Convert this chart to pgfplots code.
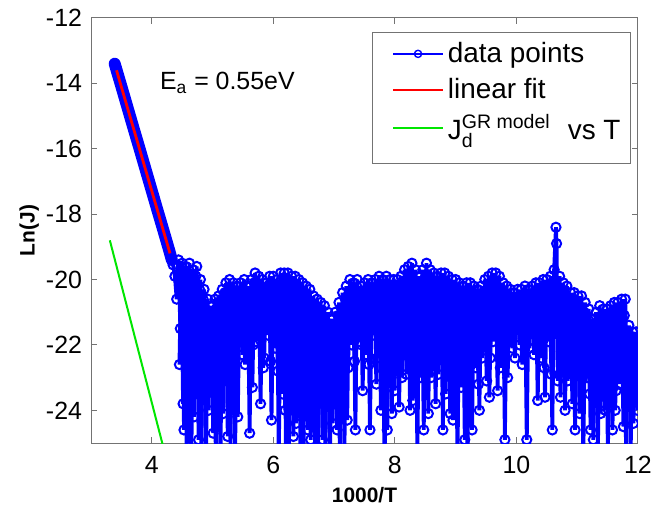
\documentclass[border=0pt]{standalone}
\usepackage{pgfplots}
\pgfplotsset{compat=1.18}
\usepackage{amsmath}
\usepackage{fontspec}
\setmainfont{Liberation Sans}
\definecolor{mblue}{RGB}{0,0,255}
\definecolor{mred}{RGB}{255,0,0}
\definecolor{mgreen}{RGB}{0,230,0}
\begin{document}
\begin{tikzpicture}
\begin{axis}[
  scale only axis,
  width=273.5bp, height=212.5bp,
  xmin=3, xmax=12, ymin=-25, ymax=-12,
  clip marker paths=true,
  xtick={4,6,8,10,12}, ytick={-24,-22,-20,-18,-16,-14,-12},
  /pgf/number format/assume math mode=true,
  ticklabel style={font=\fontsize{12.5}{14}\selectfont},
  xticklabel style={yshift=-3bp},
  yticklabel style={xshift=-1bp},
  axis line style={black!55, line width=0.5bp},
  tick style={black!55, line width=0.5bp},
  major tick length=3bp,
  xlabel={\textbf{1000/T}},
  ylabel={\textbf{Ln(J)}},
  label style={font=\fontsize{10.5}{12}\selectfont},
  xlabel style={at={(axis description cs:0.5,-0.122)}, anchor=center},
  ylabel style={at={(axis description cs:-0.113,0.5)}, anchor=center},
  legend style={name=leg, at={(rel axis cs:0.987,0.965)}, anchor=north east,
    draw=none, fill=white, font=\fontsize{14}{16}\selectfont,
    inner xsep=3bp, inner ysep=2.5bp, row sep=2.5bp,
    cells={anchor=west}},
  legend image code/.code={\path (-6bp,0bp); \draw[line width=0.9bp, mark repeat=2,mark phase=2, mark options={line width=0.7bp, mark size=1.8bp}] plot coordinates {(0bp,0bp) (12.5bp,0bp) (25bp,0bp)};},
  noise/.style={mblue, line width=1.9bp, mark=o, mark size=2.3bp, mark options={line width=1bp}},
]
% steep section drawn as a dense band
\addplot[mblue, line width=6bp, line cap=round, mark=none, forget plot] coordinates {
(3.39,-13.40) (3.49,-14.03) (3.59,-14.67) (3.69,-15.31) (3.79,-15.94) (3.89,-16.58) (3.99,-17.22)
(4.09,-17.86) (4.19,-18.49) (4.29,-19.13) (4.33,-19.40)
};
% second (interleaved) set of measured points
\addplot[noise, forget plot] coordinates {
(4.455,-22.6) (4.485,-19.6) (4.515,-23.8) (4.545,-20.0) (4.575,-25.4) (4.605,-19.8) (4.635,-22.1) (4.665,-20.2)
(4.695,-24.2) (4.725,-19.9) (4.755,-23.1) (4.785,-20.3) (4.815,-25.2) (4.845,-20.6) (4.875,-22.5) (4.905,-21.0)
(4.935,-24.0) (4.965,-21.1) (4.995,-23.0) (5.025,-21.0) (5.055,-25.6) (5.085,-20.8) (5.115,-22.4) (5.145,-20.6)
(5.175,-24.1) (5.205,-20.4) (5.235,-22.9) (5.265,-20.3) (5.295,-25.1) (5.325,-20.4) (5.355,-22.6) (5.385,-20.5)
(5.415,-24.2)
(5.445,-20.4) (5.475,-21.2) (5.505,-20.3) (5.535,-22.6) (5.565,-20.4) (5.595,-21.5) (5.625,-20.2) (5.655,-23.3)
(5.685,-20.1) (5.715,-21.9) (5.745,-20.2) (5.775,-21.1) (5.805,-20.3) (5.835,-22.7) (5.865,-20.4) (5.895,-21.3)
(5.925,-20.2) (5.955,-22.5) (5.985,-20.2) (6.015,-21.4) (6.045,-20.3) (6.075,-22.8) (6.105,-20.1)
(6.135,-21.9) (6.165,-20.2) (6.195,-24.0) (6.225,-20.1) (6.255,-25.3) (6.285,-20.3) (6.315,-22.2) (6.345,-20.3)
(6.375,-24.4) (6.405,-20.4) (6.435,-23.0) (6.465,-20.5) (6.495,-25.5) (6.525,-20.6) (6.555,-22.3) (6.585,-20.7)
(6.615,-24.9) (6.645,-20.9) (6.675,-22.5) (6.705,-21.0) (6.735,-25.6) (6.765,-21.1) (6.795,-23.4) (6.825,-21.2)
(6.855,-25.2) (6.885,-21.4) (6.915,-22.6) (6.945,-21.5) (6.975,-24.4) (7.005,-21.4) (7.035,-22.7) (7.065,-21.1)
(7.095,-25.4) (7.125,-20.9) (7.155,-22.6) (7.185,-20.6) (7.215,-24.3) (7.245,-20.4)
(7.275,-21.3) (7.305,-20.5) (7.335,-22.5) (7.365,-20.4) (7.395,-21.4) (7.425,-20.6) (7.455,-22.0) (7.485,-20.5)
(7.515,-21.2) (7.545,-20.4) (7.575,-22.6) (7.605,-20.5) (7.635,-21.3) (7.665,-20.4) (7.695,-23.2) (7.725,-20.3)
(7.755,-21.6) (7.785,-20.4) (7.815,-22.8) (7.845,-20.3) (7.875,-24.6)
(7.905,-20.4) (7.935,-22.0) (7.965,-20.4) (7.995,-23.4) (8.025,-20.4) (8.055,-21.5) (8.085,-20.3) (8.115,-23.0)
(8.145,-20.1) (8.175,-21.6) (8.205,-20.0) (8.235,-22.4) (8.265,-19.9) (8.295,-23.7) (8.325,-20.1) (8.355,-21.4)
(8.385,-20.3) (8.415,-22.3) (8.445,-20.1) (8.475,-24.6) (8.505,-19.9) (8.535,-21.7) (8.565,-20.1) (8.595,-23.0)
(8.625,-20.2) (8.655,-21.4) (8.685,-20.3) (8.715,-22.9) (8.745,-20.2) (8.775,-21.8) (8.805,-20.2) (8.835,-23.5)
(8.865,-20.3) (8.895,-21.6) (8.925,-20.4) (8.955,-24.3) (8.985,-20.4) (9.015,-21.9) (9.045,-20.5) (9.075,-22.5)
(9.105,-20.6) (9.135,-21.5) (9.165,-20.5) (9.195,-25.4) (9.225,-20.5) (9.255,-22.6) (9.285,-20.6) (9.315,-21.3)
(9.345,-20.7) (9.375,-23.2) (9.405,-20.6) (9.435,-22.4) (9.465,-20.4) (9.495,-21.6) (9.525,-20.3) (9.555,-23.6)
(9.585,-20.2) (9.615,-21.9)
(9.645,-20.2) (9.675,-21.3) (9.705,-20.3) (9.735,-22.7) (9.765,-20.5) (9.795,-21.4) (9.825,-20.6) (9.855,-23.0)
(9.885,-20.7) (9.915,-21.3) (9.945,-20.8) (9.975,-22.4) (10.005,-20.7) (10.035,-21.2) (10.065,-20.7) (10.095,-22.6)
(10.125,-20.6) (10.155,-21.4) (10.185,-20.7) (10.215,-22.1) (10.245,-20.6) (10.275,-21.2) (10.305,-20.5) (10.335,-22.0)
(10.365,-20.5)
(10.395,-21.6) (10.425,-20.4) (10.455,-22.7) (10.485,-20.4) (10.515,-21.3) (10.545,-20.3) (10.575,-22.9) (10.605,-20.1)
(10.635,-21.5) (10.695,-20.3) (10.725,-23.6) (10.755,-20.4) (10.785,-21.7) (10.815,-20.6) (10.845,-23.1) (10.875,-20.8)
(10.905,-21.6) (10.935,-20.8) (10.965,-24.6) (10.995,-20.9) (11.025,-22.3) (11.055,-20.9) (11.085,-23.0) (11.115,-21.0)
(11.145,-22.4) (11.175,-21.2) (11.205,-23.5) (11.235,-21.5) (11.265,-24.9) (11.295,-21.5) (11.325,-22.2) (11.355,-21.2)
(11.385,-24.1) (11.415,-21.2) (11.445,-22.7) (11.475,-21.3) (11.505,-25.3) (11.535,-21.2) (11.565,-22.3) (11.595,-21.1)
(11.625,-24.0) (11.655,-21.0) (11.685,-23.2) (11.715,-21.0) (11.745,-22.4) (11.775,-21.1) (11.805,-25.4) (11.835,-21.6)
(11.865,-22.9) (11.895,-21.9) (11.925,-24.4) (11.955,-22.0) (11.985,-23.1)
};
\addplot[noise] coordinates {
(3.39,-13.40) (3.41,-13.50) (3.43,-13.65) (3.45,-13.78) (3.47,-13.90) (3.49,-14.03) (3.51,-14.16) (3.53,-14.28)
(3.55,-14.41) (3.57,-14.54) (3.59,-14.67) (3.61,-14.80) (3.63,-14.92) (3.65,-15.05) (3.67,-15.18) (3.69,-15.31)
(3.71,-15.43) (3.73,-15.56) (3.75,-15.69) (3.77,-15.82) (3.79,-15.94) (3.81,-16.07) (3.83,-16.20) (3.85,-16.33)
(3.87,-16.45) (3.89,-16.58) (3.91,-16.71) (3.93,-16.84) (3.95,-16.96) (3.97,-17.09) (3.99,-17.22) (4.01,-17.35)
(4.03,-17.47) (4.05,-17.60) (4.07,-17.73) (4.09,-17.86) (4.11,-17.98) (4.13,-18.11) (4.15,-18.24) (4.17,-18.37)
(4.19,-18.49) (4.21,-18.62) (4.23,-18.75) (4.25,-18.88) (4.27,-19.00) (4.29,-19.13) (4.31,-19.26) (4.33,-19.40)
(4.35,-19.55) (4.38,-19.9) (4.41,-20.6)
(4.44,-19.4) (4.47,-21.5) (4.50,-19.5) (4.53,-24.6) (4.56,-19.6) (4.59,-23.0) (4.62,-19.5) (4.65,-25.8)
(4.68,-19.7) (4.71,-22.4) (4.74,-19.6) (4.77,-24.9) (4.80,-20.0) (4.83,-23.6) (4.86,-20.3) (4.89,-26.0)
(4.92,-20.6) (4.95,-22.8) (4.98,-20.8) (5.01,-24.7) (5.04,-20.6) (5.07,-23.4) (5.10,-20.5) (5.13,-25.5)
(5.16,-20.3) (5.19,-22.1) (5.22,-20.1) (5.25,-24.8) (5.28,-20.0) (5.31,-23.9) (5.34,-20.1) (5.37,-25.6)
(5.40,-20.2)
(5.43,-21.8) (5.46,-20.1) (5.49,-22.3) (5.52,-20.0) (5.55,-21.6) (5.58,-20.2) (5.61,-24.7) (5.64,-20.0)
(5.67,-22.0) (5.70,-19.8) (5.73,-21.4) (5.76,-19.9) (5.79,-23.8) (5.82,-20.0) (5.85,-22.4) (5.88,-20.1)
(5.91,-21.7) (5.94,-19.9) (5.97,-24.3) (6.00,-19.9) (6.03,-22.1) (6.06,-20.0) (6.09,-25.5) (6.12,-19.8)
(6.15,-23.5) (6.18,-19.8) (6.21,-25.7) (6.24,-19.8) (6.27,-22.6) (6.30,-19.9) (6.33,-24.8) (6.36,-19.9)
(6.39,-23.1) (6.42,-20.0) (6.45,-26.0) (6.48,-20.1) (6.51,-22.9) (6.54,-20.2) (6.57,-24.6) (6.60,-20.3)
(6.63,-23.7) (6.66,-20.5) (6.69,-25.4) (6.72,-20.6) (6.75,-22.8) (6.78,-20.7) (6.81,-24.9) (6.84,-20.8)
(6.87,-23.3) (6.90,-21.0) (6.93,-25.9) (6.96,-21.2) (6.99,-23.0) (7.02,-21.0) (7.05,-24.6) (7.08,-20.7)
(7.11,-23.6) (7.14,-20.4) (7.17,-25.2) (7.20,-20.2) (7.23,-22.7)
(7.26,-20.0) (7.29,-22.0) (7.32,-20.1) (7.35,-24.6) (7.38,-20.0) (7.41,-21.9) (7.44,-20.2) (7.47,-23.4)
(7.50,-20.1) (7.53,-22.3) (7.56,-20.0) (7.59,-24.6) (7.62,-20.1) (7.65,-21.7) (7.68,-20.0) (7.71,-22.4)
(7.74,-19.9) (7.77,-24.0) (7.80,-20.0) (7.83,-26.0) (7.86,-19.9)
(7.89,-22.8) (7.92,-20.0) (7.95,-24.1) (7.98,-20.0) (8.01,-22.5) (8.04,-20.0) (8.07,-23.9) (8.10,-19.9)
(8.13,-21.8) (8.16,-19.7) (8.19,-22.9) (8.22,-19.6) (8.25,-24.0) (8.28,-19.5) (8.31,-22.2) (8.34,-19.7)
(8.37,-25.4) (8.40,-19.9) (8.43,-23.0) (8.46,-19.7) (8.49,-21.9) (8.52,-19.5) (8.55,-24.1) (8.58,-19.7)
(8.61,-22.6) (8.64,-19.8) (8.67,-23.8) (8.70,-19.9) (8.73,-21.7) (8.76,-19.8) (8.79,-24.6) (8.82,-19.8)
(8.85,-22.4) (8.88,-19.9) (8.91,-24.1) (8.94,-20.0) (8.97,-22.9) (9.00,-20.0) (9.03,-25.6) (9.06,-20.1)
(9.09,-23.3) (9.12,-20.2) (9.15,-24.9) (9.18,-20.1) (9.21,-22.1) (9.24,-20.1) (9.27,-24.6) (9.30,-20.2)
(9.33,-22.7) (9.36,-20.3) (9.39,-24.0) (9.42,-20.2) (9.45,-21.9) (9.48,-20.0) (9.51,-23.1) (9.54,-19.9)
(9.57,-22.4) (9.60,-19.8)
(9.63,-21.6) (9.66,-19.8) (9.69,-23.4) (9.72,-19.9) (9.75,-22.0) (9.78,-20.1) (9.81,-24.9) (9.84,-20.2)
(9.87,-21.7) (9.90,-20.3) (9.93,-22.1) (9.96,-20.4) (9.99,-21.5) (10.02,-20.3) (10.05,-22.0) (10.08,-20.3)
(10.11,-21.8) (10.14,-20.2) (10.17,-24.9) (10.20,-20.3) (10.23,-21.6) (10.26,-20.2) (10.29,-22.3) (10.32,-20.1)
(10.35,-23.7)
(10.38,-20.1) (10.41,-22.4) (10.44,-20.0) (10.47,-23.6) (10.50,-20.0) (10.53,-21.9) (10.56,-19.9) (10.59,-24.6)
(10.62,-19.7) (10.65,-18.4) (10.66,-18.9) (10.68,-23.1) (10.71,-19.9) (10.74,-22.2) (10.77,-20.1) (10.80,-24.0)
(10.83,-20.2) (10.86,-22.6) (10.89,-20.4) (10.92,-23.8) (10.95,-20.4) (10.98,-22.0) (11.01,-20.5) (11.04,-24.1)
(11.07,-20.5) (11.10,-25.6)
(11.13,-20.7) (11.16,-23.0) (11.19,-20.9) (11.22,-24.6) (11.25,-21.2) (11.28,-22.4) (11.31,-21.0) (11.34,-25.3)
(11.37,-20.8) (11.40,-23.1) (11.43,-20.9) (11.46,-24.0) (11.49,-20.9) (11.52,-22.6) (11.55,-20.8) (11.58,-24.6)
(11.61,-20.7) (11.64,-23.4) (11.67,-20.7) (11.70,-22.2) (11.73,-20.6) (11.76,-24.5) (11.79,-20.6) (11.82,-23.2)
(11.85,-21.4) (11.88,-25.2) (11.91,-21.6) (11.94,-22.6) (11.97,-21.6) (11.99,-24.0)
};
\addlegendentry{data points}
\addplot[mred, line width=1.4bp, mark=none] coordinates {(3.42,-13.6) (4.30,-19.2)};
\addlegendentry{linear fit}
\addplot[mgreen, line width=1bp, mark=none] coordinates {(3.31,-18.8) (4.20,-25.2)};
\addlegendentry{J$_{\text{d}}^{\text{GR model}}$\,\, vs T}
\node[anchor=base west, font=\fontsize{12.5}{14}\selectfont] at (axis cs:4.02,-14.2) {E$_{\text{a}}$ = 0.55eV};
\end{axis}
\draw[black!55, line width=0.5bp] (leg.north west) rectangle ([yshift=-6bp]leg.south east);
\pgfresetboundingbox
\path[use as bounding box] ([shift={(-45.5bp,-32.5bp)}]current axis.south west) rectangle ([shift={(8bp,9bp)}]current axis.north east);
\end{tikzpicture}
\end{document}
